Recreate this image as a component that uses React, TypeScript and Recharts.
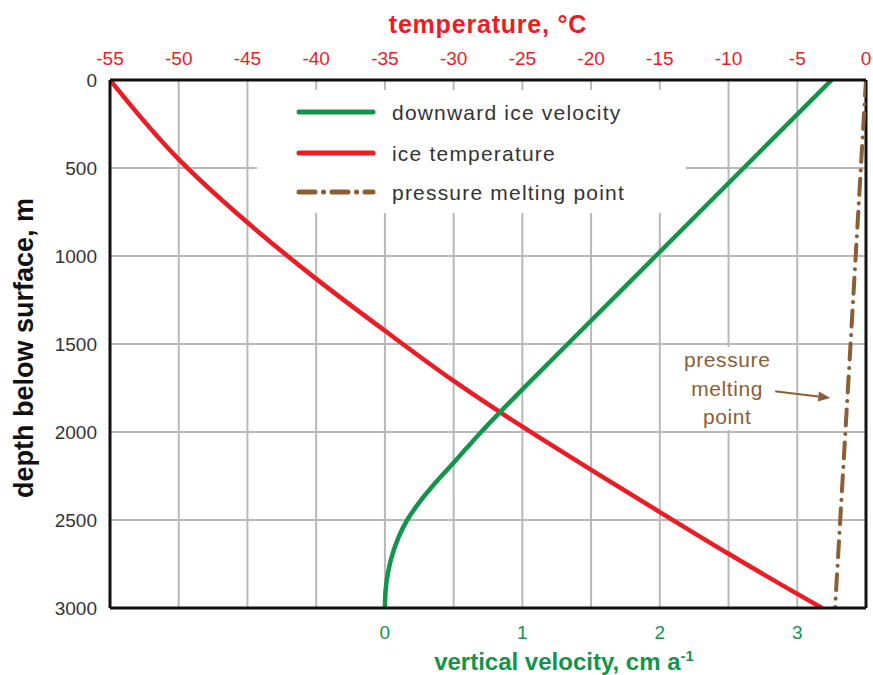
import React from 'react';
import { ComposedChart, Line, XAxis, YAxis, CartesianGrid, Legend, ReferenceLine, ReferenceDot, Label } from 'recharts';

// depth below surface (m) and the readings along each profile
const TEMP_DEPTHS = [0, 451, 810, 1130, 1425, 1710, 1970, 2215, 2455, 2692, 2920, 3000];
const ICE_TEMPERATURE = [-55, -50, -45, -40, -35, -30, -25, -20, -15, -10, -5, -3.2];

const VEL_DEPTHS = [0, 500, 1000, 1500, 1885, 2000, 2100, 2200, 2300, 2400, 2500, 2600, 2700, 2800, 2900, 3000];
const ICE_VELOCITY = [3.25, 2.61, 1.97, 1.33, 0.84, 0.7, 0.585, 0.47, 0.355, 0.25, 0.162, 0.098, 0.053, 0.022, 0.005, 0];

const PMP_DEPTHS = [0, 1000, 2000, 3000];
const PMP_TEMPERATURE = [0, -0.75, -1.5, -2.25];

const TEMP_TICKS = [-55, -50, -45, -40, -35, -30, -25, -20, -15, -10, -5, 0];
const VEL_TICKS = [0, 1, 2, 3];
const DEPTH_TICKS = [0, 500, 1000, 1500, 2000, 2500, 3000];

const LEGEND_LABELS = ['downward ice velocity', 'ice temperature', 'pressure melting point'];
const ANNOTATION_LINES = ['pressure', 'melting', 'point'];

const RED = '#ed1c24';
const GREEN = '#12944a';
const BROWN = '#8b5e34';
const FONT = '"Liberation Sans", Arial, Helvetica, sans-serif';
const DASH_DOT = '16 8.5 0.1 8.4';

const tempData = TEMP_DEPTHS.map((depth, i) => ({ depth, temp: ICE_TEMPERATURE[i] }));
const velData = VEL_DEPTHS.map((depth, i) => ({ depth, vel: ICE_VELOCITY[i] }));
const pmpData = PMP_DEPTHS.map((depth, i) => ({ depth, temp: PMP_TEMPERATURE[i] }));

const legendStyles = [
  { stroke: GREEN },
  { stroke: RED },
  { stroke: BROWN, strokeDasharray: DASH_DOT },
];

const renderLegend = () => (
  <svg width={429} height={123} style={{ display: 'block' }}>
    {LEGEND_LABELS.map((label, i) => {
      const y = [22, 63, 102][i];
      return (
        <g key={label}>
          <line x1={42} x2={116} y1={y} y2={y} strokeWidth={5} strokeLinecap="round" {...legendStyles[i]} />
          <text x={135} y={y} dy="0.36em" fontSize={21} letterSpacing={1.2} fill="#333" fontFamily={FONT}>
            {label}
          </text>
        </g>
      );
    })}
  </svg>
);

const TopTitle = (props: any) => {
  const vb = props.viewBox || { x: 110, y: 40, width: 756, height: 40 };
  return (
    <text x={vb.x + vb.width / 2} y={vb.y - 7} textAnchor="middle" fill={RED} fontSize={25} fontWeight="bold" letterSpacing={0.8} fontFamily={FONT}>
      temperature, °C
    </text>
  );
};

const BottomTitle = (props: any) => {
  const vb = props.viewBox || { x: 110, y: 608, width: 756, height: 60 };
  return (
    <text x={vb.x + vb.width / 2 + 76} y={vb.y + 62} textAnchor="middle" fill={GREEN} fontSize={24} fontWeight="bold" fontFamily={FONT}>
      vertical velocity, cm a
      <tspan fontSize={15} dy={-9}>-1</tspan>
    </text>
  );
};

const LeftTitle = (props: any) => {
  const vb = props.viewBox || { x: 30, y: 80, width: 80, height: 528 };
  const x = 33;
  const y = vb.y + vb.height / 2 + 4;
  return (
    <text x={x} y={y} transform={`rotate(-90, ${x}, ${y})`} textAnchor="middle" fill="#111" fontSize={27} fontWeight="bold" fontFamily={FONT}>
      depth below surface, m
    </text>
  );
};

const AnnotationText = ({ cx, cy }: any) => (
  <g>
    <rect x={cx - 47} y={cy - 41} width={95} height={83} fill="#fff" />
    {ANNOTATION_LINES.map((t, i) => (
      <text key={t} x={cx} y={cy + (i - 1) * 28.5} dy="0.36em" textAnchor="middle" fill={BROWN} fontSize={21} letterSpacing={0.6} fontFamily={FONT}>
        {t}
      </text>
    ))}
  </g>
);

const Arrow = ({ x1, y1, x2, y2 }: any) => {
  const a = Math.atan2(y2 - y1, x2 - x1);
  const len = 12;
  const w = 5;
  const bx = x2 - len * Math.cos(a);
  const by = y2 - len * Math.sin(a);
  const px = -Math.sin(a) * w;
  const py = Math.cos(a) * w;
  return (
    <g>
      <line x1={x1} y1={y1} x2={bx} y2={by} stroke={BROWN} strokeWidth={2} />
      <polygon points={`${x2},${y2} ${bx + px},${by + py} ${bx - px},${by - py}`} fill={BROWN} />
    </g>
  );
};

export default function App() {
  return (
    <div style={{ position: 'absolute', left: 0, top: 0, fontFamily: FONT, background: '#fff' }}>
      <ComposedChart
        width={873}
        height={675}
        layout="vertical"
        margin={{ top: 40, right: 7, bottom: 7, left: 30 }}
        style={{ fontFamily: FONT }}
      >
        <CartesianGrid xAxisId="temp" yAxisId="depth" stroke="#b8b8b8" strokeWidth={2} />
        <XAxis
          xAxisId="temp"
          orientation="top"
          type="number"
          domain={[-55, 0]}
          ticks={TEMP_TICKS}
          interval={0}
          height={40}
          tickSize={0}
          tickMargin={15}
          tickLine={false}
          axisLine={{ stroke: '#111', strokeWidth: 3 }}
          tick={{ fill: RED, fontSize: 19 }}
          allowDataOverflow
          label={<Label content={TopTitle} />}
        />
        <XAxis
          xAxisId="vel"
          orientation="bottom"
          type="number"
          domain={[-2, 3.5]}
          ticks={VEL_TICKS}
          interval={0}
          height={60}
          tickSize={0}
          tickMargin={18}
          tickLine={false}
          axisLine={{ stroke: '#111', strokeWidth: 3 }}
          tick={{ fill: GREEN, fontSize: 19 }}
          allowDataOverflow
          label={<Label content={BottomTitle} />}
        />
        <YAxis
          yAxisId="depth"
          type="number"
          dataKey="depth"
          domain={[0, 3000]}
          ticks={DEPTH_TICKS}
          interval={0}
          width={80}
          tickSize={0}
          tickMargin={13}
          tickLine={false}
          axisLine={{ stroke: '#111', strokeWidth: 3 }}
          tick={{ fill: '#333', fontSize: 19 }}
          allowDataOverflow
          label={<Label content={LeftTitle} />}
        />
        <ReferenceLine xAxisId="temp" yAxisId="depth" x={0} stroke="#111" strokeWidth={3} />
        <ReferenceDot xAxisId="temp" yAxisId="depth" x={-10.1} y={1750} r={0} shape={AnnotationText} />
        <ReferenceLine
          xAxisId="temp"
          yAxisId="depth"
          segment={[{ x: -6.8, y: 1767 }, { x: -2.6, y: 1807 }]}
          shape={Arrow}
        />
        <Line
          xAxisId="temp"
          yAxisId="depth"
          data={pmpData}
          dataKey="temp"
          type="linear"
          stroke={BROWN}
          strokeWidth={4}
          strokeDasharray={DASH_DOT}
          strokeLinecap="round"
          dot={false}
          isAnimationActive={false}
        />
        <Line
          xAxisId="temp"
          yAxisId="depth"
          data={tempData}
          dataKey="temp"
          type="monotone"
          stroke={RED}
          strokeWidth={4.5}
          dot={false}
          isAnimationActive={false}
        />
        <Line
          xAxisId="vel"
          yAxisId="depth"
          data={velData}
          dataKey="vel"
          type="monotone"
          stroke={GREEN}
          strokeWidth={4.5}
          dot={false}
          isAnimationActive={false}
        />
        <Legend
          layout="horizontal"
          align="center"
          verticalAlign="middle"
          content={renderLegend}
          wrapperStyle={{ left: 257, top: 90, width: 429, height: 123, background: '#fff' }}
        />
      </ComposedChart>
    </div>
  );
}
